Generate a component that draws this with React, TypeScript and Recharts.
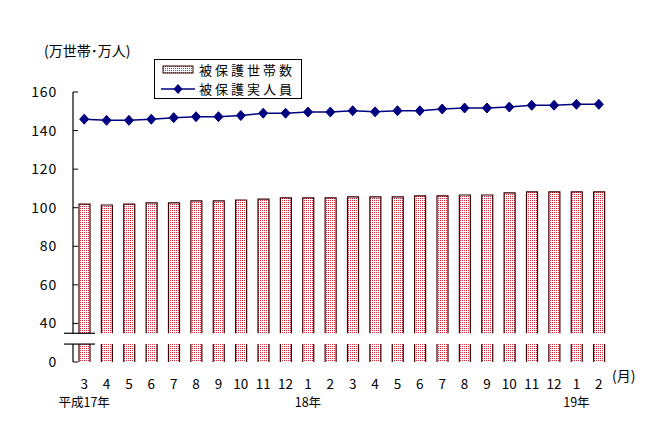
import React from 'react';
import {
  ComposedChart, Bar, Line, XAxis, YAxis, Legend, ReferenceLine, ReferenceArea,
} from 'recharts';

// 平成17年3月 〜 平成19年2月
const months = ['3', '4', '5', '6', '7', '8', '9', '10', '11', '12', '1', '2',
  '3', '4', '5', '6', '7', '8', '9', '10', '11', '12', '1', '2'];
const years = ['平成17年', '', '', '', '', '', '', '', '', '', '18年', '',
  '', '', '', '', '', '', '', '', '', '', '19年', ''];

// 万世帯
const households = [101.9, 101.4, 101.9, 102.5, 102.5, 103.5, 103.5, 104.0, 104.5, 105.1, 105.1, 105.1,
  105.6, 105.6, 105.6, 106.1, 106.1, 106.6, 106.6, 107.7, 108.2, 108.2, 108.2, 108.2];
// 万人
const persons = [145.9, 145.3, 145.3, 145.9, 146.7, 147.2, 147.2, 147.8, 149.0, 149.0, 149.6, 149.6,
  150.3, 149.7, 150.3, 150.3, 151.2, 151.7, 151.7, 152.2, 153.1, 153.1, 153.6, 153.6];

const yTickLabels = [0, 40, 60, 80, 100, 120, 140, 160];

// the axis is broken between 0 and 40: everything above 40 is drawn 20 lower
const SHIFT = 20;
const BREAK_LO = 9.3;
const BREAK_HI = 14.9;

const FONT = '"Noto Sans CJK JP", "Noto Sans", sans-serif';
const NAVY = '#000080';
const BAR_EDGE = '#3a0000';

const data = months.map((m, i) => ({
  month: m,
  year: years[i],
  households: households[i] - SHIFT,
  persons: persons[i] - SHIFT,
}));

const yTicks = yTickLabels.map((v) => (v === 0 ? 0 : v - SHIFT));

const BrokenBar = (props: any) => {
  const { x, y, width, height, value } = props;
  const v = Array.isArray(value) ? value[1] - value[0] : value;
  if (!height || !v) return null;
  const unit = height / v;
  const bottom = y + height;
  const gapTop = bottom - BREAK_HI * unit;
  const gapBottom = bottom - BREAK_LO * unit;
  return (
    <g>
      <rect x={x} y={y} width={width} height={gapTop - y} fill="url(#dots)" />
      <rect x={x} y={gapBottom} width={width} height={bottom - gapBottom} fill="url(#dots)" />
      <polyline points={`${x},${gapTop} ${x},${y} ${x + width},${y} ${x + width},${gapTop}`} fill="none" stroke={BAR_EDGE} strokeWidth={1.2} />
      <line x1={x} y1={gapBottom} x2={x} y2={bottom} stroke={BAR_EDGE} strokeWidth={1.2} />
      <line x1={x + width} y1={gapBottom} x2={x + width} y2={bottom} stroke={BAR_EDGE} strokeWidth={1.2} />
    </g>
  );
};

const Diamond = (props: any) => {
  const { cx, cy } = props;
  if (cx == null || cy == null) return null;
  return <polygon points={`${cx},${cy - 5} ${cx + 4.5},${cy} ${cx},${cy + 5} ${cx - 4.5},${cy}`} fill={NAVY} stroke={NAVY} />;
};

const MonthTick = (props: any) => {
  const { x, y, payload, index } = props;
  const yr = years[payload.index ?? index];
  return (
    <g>
      <text x={x} y={y + 21} textAnchor="middle" dominantBaseline="central" fontSize={13.5} fontFamily={FONT} fill="#000">
        {payload.value}
      </text>
      {yr ? (
        <text x={x} y={y + 39} textAnchor="middle" dominantBaseline="central" fontSize={12.5} fontFamily={FONT} fill="#000">
          {yr}
        </text>
      ) : null}
    </g>
  );
};

// upper and lower pieces of the y axis line
const AxisPiece = (props: any) => {
  const { x, y, height } = props;
  return <line x1={x} y1={y} x2={x} y2={y + height} stroke="#000" strokeWidth={1.2} />;
};

const BreakMark = (props: any) => {
  const { x1, y1 } = props;
  return <line x1={x1 - 9} y1={y1} x2={x1 + 22} y2={y1} stroke="#000" strokeWidth={1.2} />;
};

const rowStyle: React.CSSProperties = { display: 'flex', alignItems: 'center', height: 19 };

const LegendBox = () => (
  <div style={{ border: '1px solid #000', background: '#fff', width: 146, fontFamily: FONT, fontSize: 13, lineHeight: '19px', letterSpacing: 3 }}>
    <div style={rowStyle}>
      <svg width={44} height={19}>
        <rect x={8} y={6} width={30} height={7} fill="url(#dots)" stroke={BAR_EDGE} />
      </svg>
      <span>被保護世帯数</span>
    </div>
    <div style={rowStyle}>
      <svg width={44} height={19}>
        <line x1={6} y1={10} x2={40} y2={10} stroke={NAVY} strokeWidth={1.5} />
        <polygon points="23,5 27.5,10 23,15 18.5,10" fill={NAVY} />
      </svg>
      <span>被保護実人員</span>
    </div>
  </div>
);

export default function App() {
  return (
    <div style={{ position: 'absolute', left: 0, top: 0, width: 648, height: 430, background: '#fff' }}>
      <svg width={0} height={0} style={{ position: 'absolute' }}>
        <defs>
          <pattern id="dots" width="2" height="2" patternUnits="userSpaceOnUse">
            <rect width="2" height="2" fill="#fff" />
            <rect width="1" height="1" fill="#d8283c" />
          </pattern>
        </defs>
      </svg>
      <ComposedChart width={648} height={430} data={data} margin={{ top: 92, right: 38, bottom: 18, left: 13 }}>
        <XAxis xAxisId="grid" type="number" domain={[0, 24]} ticks={Array.from({ length: 25 }, (_, i) => i)}
          height={0} tick={false} tickSize={-5} axisLine={{ stroke: '#000', strokeWidth: 1.2 }} tickLine={{ stroke: '#000' }} />
        <XAxis xAxisId="cat" dataKey="month" height={50} axisLine={false} tickLine={false} tickSize={0} tickMargin={0}
          interval={0} tick={<MonthTick />} />
        <YAxis width={60} domain={[0, 140]} ticks={yTicks} interval={0} axisLine={false}
          tickSize={-5} tickMargin={21} tickLine={{ stroke: '#000' }}
          tickFormatter={(p: number) => String(p === 0 ? 0 : p + SHIFT)}
          tick={{ fill: '#000', fontSize: 14, fontFamily: FONT, letterSpacing: 0.8 }} />
        <ReferenceArea y1={BREAK_HI} y2={140} fill="none" shape={<AxisPiece />} />
        <ReferenceArea y1={0} y2={BREAK_LO} fill="none" shape={<AxisPiece />} />
        <Bar xAxisId="cat" dataKey="households" name="被保護世帯数" barSize={11} shape={<BrokenBar />} isAnimationActive={false} />
        <Line xAxisId="cat" dataKey="persons" name="被保護実人員" type="linear" stroke={NAVY} strokeWidth={1.5}
          dot={<Diamond />} activeDot={false} isAnimationActive={false} />
        <ReferenceLine y={BREAK_HI} shape={<BreakMark />} />
        <ReferenceLine y={BREAK_LO} shape={<BreakMark />} />
        <Legend layout="vertical" align="center" verticalAlign="middle" content={<LegendBox />}
          wrapperStyle={{ position: 'absolute', left: 154, top: 59, width: 148 }} />
      </ComposedChart>
      <div style={{ position: 'absolute', left: 44, top: 40, fontFamily: FONT, fontSize: 14, whiteSpace: 'nowrap' }}>(万世帯･万人)</div>
      <div style={{ position: 'absolute', left: 612, top: 365, fontFamily: FONT, fontSize: 14 }}>(月)</div>
    </div>
  );
}
